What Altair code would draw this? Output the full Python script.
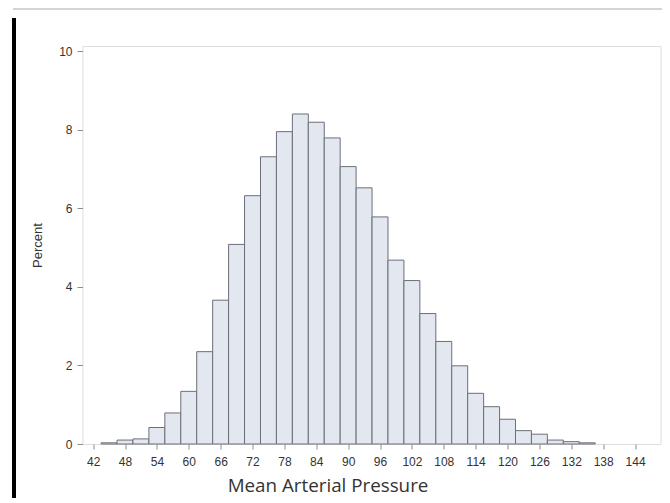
import altair as alt
import pandas as pd

# Histogram bins (width 3) of Mean Arterial Pressure and percent per bin
bin_low = [43.5, 46.5, 49.5, 52.5, 55.5, 58.5, 61.5, 64.5, 67.5, 70.5,
           73.5, 76.5, 79.5, 82.5, 85.5, 88.5, 91.5, 94.5, 97.5, 100.5,
           103.5, 106.5, 109.5, 112.5, 115.5, 118.5, 121.5, 124.5, 127.5, 130.5,
           133.5]
bin_high = [46.5, 49.5, 52.5, 55.5, 58.5, 61.5, 64.5, 67.5, 70.5, 73.5,
            76.5, 79.5, 82.5, 85.5, 88.5, 91.5, 94.5, 97.5, 100.5, 103.5,
            106.5, 109.5, 112.5, 115.5, 118.5, 121.5, 124.5, 127.5, 130.5, 133.5,
            136.5]
percent = [0.03, 0.10, 0.13, 0.42, 0.79, 1.34, 2.35, 3.66, 5.08, 6.32,
           7.31, 7.95, 8.40, 8.19, 7.79, 7.06, 6.52, 5.78, 4.68, 4.16,
           3.32, 2.61, 1.99, 1.29, 0.95, 0.63, 0.34, 0.25, 0.10, 0.06,
           0.03]
x_ticks = [42, 48, 54, 60, 66, 72, 78, 84, 90, 96, 102, 108, 114, 120, 126, 132, 138, 144]
y_ticks = [0, 2, 4, 6, 8, 10]

df = pd.DataFrame({"lo": bin_low, "hi": bin_high, "pct": percent})

W, H = 578, 398

bars = alt.Chart(df).mark_rect(
    fill="#e3e7f0", stroke="#6b6f77", strokeWidth=1
).encode(
    x=alt.X("lo:Q",
            scale=alt.Scale(domain=[40, 148.79], nice=False, zero=False),
            axis=alt.Axis(values=x_ticks, title="Mean Arterial Pressure",
                          grid=False, domain=False, tickSize=5, tickColor="#8c8c8c",
                          labelPadding=7, labelFont="Liberation Sans", labelFontSize=12,
                          labelColor="#333333", labelFlush=False,
                          titleFont="Open Sans", titleFontSize=18.8, titleFontWeight="normal",
                          titleColor="#333333", titleX=245, titleY=47.5,
                          titleAlign="center", titleBaseline="alphabetic")),
    x2="hi:Q",
    y=alt.Y("pct:Q",
            scale=alt.Scale(domain=[0, 10.13], nice=False),
            axis=alt.Axis(values=y_ticks, title="Percent",
                          grid=False, domain=False, tickSize=5.5, tickColor="#8c8c8c",
                          labelPadding=5, labelFont="Liberation Sans", labelFontSize=12,
                          labelColor="#333333", labelFlush=False,
                          titleFont="Liberation Sans", titleFontSize=13,
                          titleFontWeight="normal", titleColor="#333333",
                          titleX=-41, titleY=H / 2, titleAngle=270,
                          titleAlign="center", titleBaseline="alphabetic")),
    y2=alt.datum(0),
)

# page frame decorations
left_bar = alt.Chart(df).mark_rule(color="black", strokeWidth=2.5).encode(
    x=alt.value(-68.5), y=alt.value(-28), y2=alt.value(460)
)
top_line = alt.Chart(df).mark_rule(color="#d4d4d4", strokeWidth=1).encode(
    x=alt.value(-69.5), x2=alt.value(600), y=alt.value(-37)
)

chart = alt.layer(bars, left_bar, top_line).properties(
    width=W, height=H,
    autosize=alt.AutoSizeParams(type="none"),
    padding={"left": 74.5, "top": 38, "right": 1.5, "bottom": 54},
).configure_view(
    stroke="#a3a3a3", strokeWidth=1
).configure(background="white")

chart.save("out.html", embed_options={"renderer": "svg", "actions": False})
